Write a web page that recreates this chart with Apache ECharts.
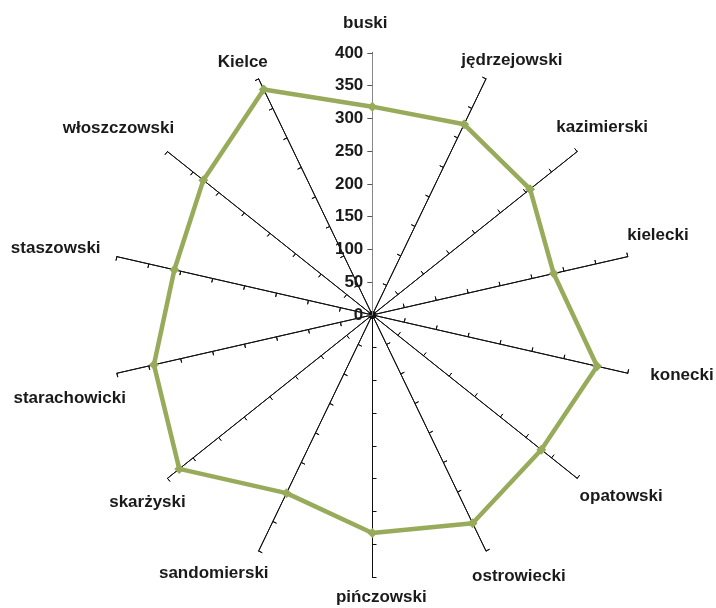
<!DOCTYPE html>
<html><head><meta charset="utf-8">
<script src="https://cdn.jsdelivr.net/npm/echarts@6/dist/echarts.min.js"></script>
<style>html,body{margin:0;padding:0;background:#fff}#c{width:716px;height:608px}</style>
</head><body><div id="c"></div>
<script>
var categories = ['buski','jędrzejowski','kazimierski','kielecki','konecki','opatowski','ostrowiecki','pińczowski','sandomierski','skarżyski','starachowicki','staszowski','włoszczowski','Kielce'];
var values = [318, 323, 308, 284, 352, 330, 353, 333, 302, 377, 342, 310, 330, 382];
var tickMax = 400;
var tickStep = 50;

// label nudges (px, right/down) for each category name, same order as categories
var nameShift = [[-7,2],[12,10],[0,-4],[-1,-14],[23,-5],[19,-2],[19,-4],[9,-12],[-31,-7],[5,4],[-16,18],[-30,-1],[-24,-3],[-2,12]];

// radar runs counter-clockwise; reorder so categories run clockwise from the top
var order = [0];
for (var i = categories.length - 1; i > 0; i--) order.push(i);
var cats = order.map(function (i) { return categories[i]; });
var vals = order.map(function (i) { return values[i]; });

var FONT = 'Liberation Sans';
var rich = {};
categories.forEach(function (n, i) {
  var dx = nameShift[i][0], dy = nameShift[i][1];
  rich['n' + i] = {
    fontFamily: FONT, fontSize: 17, fontWeight: 'bold', color: '#1a1a1a',
    padding: [dy > 0 ? 2 * dy : 0, dx < 0 ? -2 * dx : 0, dy < 0 ? -2 * dy : 0, dx > 0 ? 2 * dx : 0]
  };
});

var chart = echarts.init(document.getElementById('c'));
var center = ['52%', '51.8%'];
var radius = 262;
var indicator = cats.map(function (n) { return { name: n, min: 0, max: tickMax }; });
function radarCfg(inside, showName) {
  return {
    center: center, radius: radius, startAngle: 90, shape: 'polygon',
    splitNumber: tickMax / tickStep,
    indicator: indicator,
    axisName: {
      show: showName, color: '#1a1a1a', fontFamily: FONT, fontSize: 17, fontWeight: 'bold',
      align: 'center', verticalAlign: 'middle',
      formatter: function (name) { return '{n' + categories.indexOf(name) + '|' + name + '}'; },
      rich: rich
    },
    nameGap: 32,
    axisLine: { show: true, lineStyle: { color: '#111', width: 1 } },
    axisTick: { show: true, inside: inside, length: 4, lineStyle: { color: '#111', width: 1 } },
    axisLabel: { show: false },
    splitLine: { show: false },
    splitArea: { show: false }
  };
}
chart.setOption({
  animation: false,
  radar: [radarCfg(false, true), radarCfg(true, false)],
  polar: { center: center, radius: radius },
  angleAxis: { type: 'value', startAngle: 90, min: 0, max: 360, show: false },
  radiusAxis: {
    min: 0, max: tickMax, interval: tickStep, z: 5,
    axisLine: { show: true, lineStyle: { color: '#888', width: 1 } },
    axisTick: { show: true, length: 5, lineStyle: { color: '#555' } },
    axisLabel: { show: true, color: '#1a1a1a', fontFamily: FONT, fontSize: 17, fontWeight: 'bold', margin: 9 },
    splitLine: { show: false }
  },
  series: [{
    type: 'radar', radarIndex: 0, z: 10,
    symbol: 'diamond', symbolSize: 10,
    lineStyle: { color: '#97ab5b', width: 4.5 },
    itemStyle: { color: '#97ab5b' },
    data: [{ value: vals }]
  }]
});
</script></body></html>
